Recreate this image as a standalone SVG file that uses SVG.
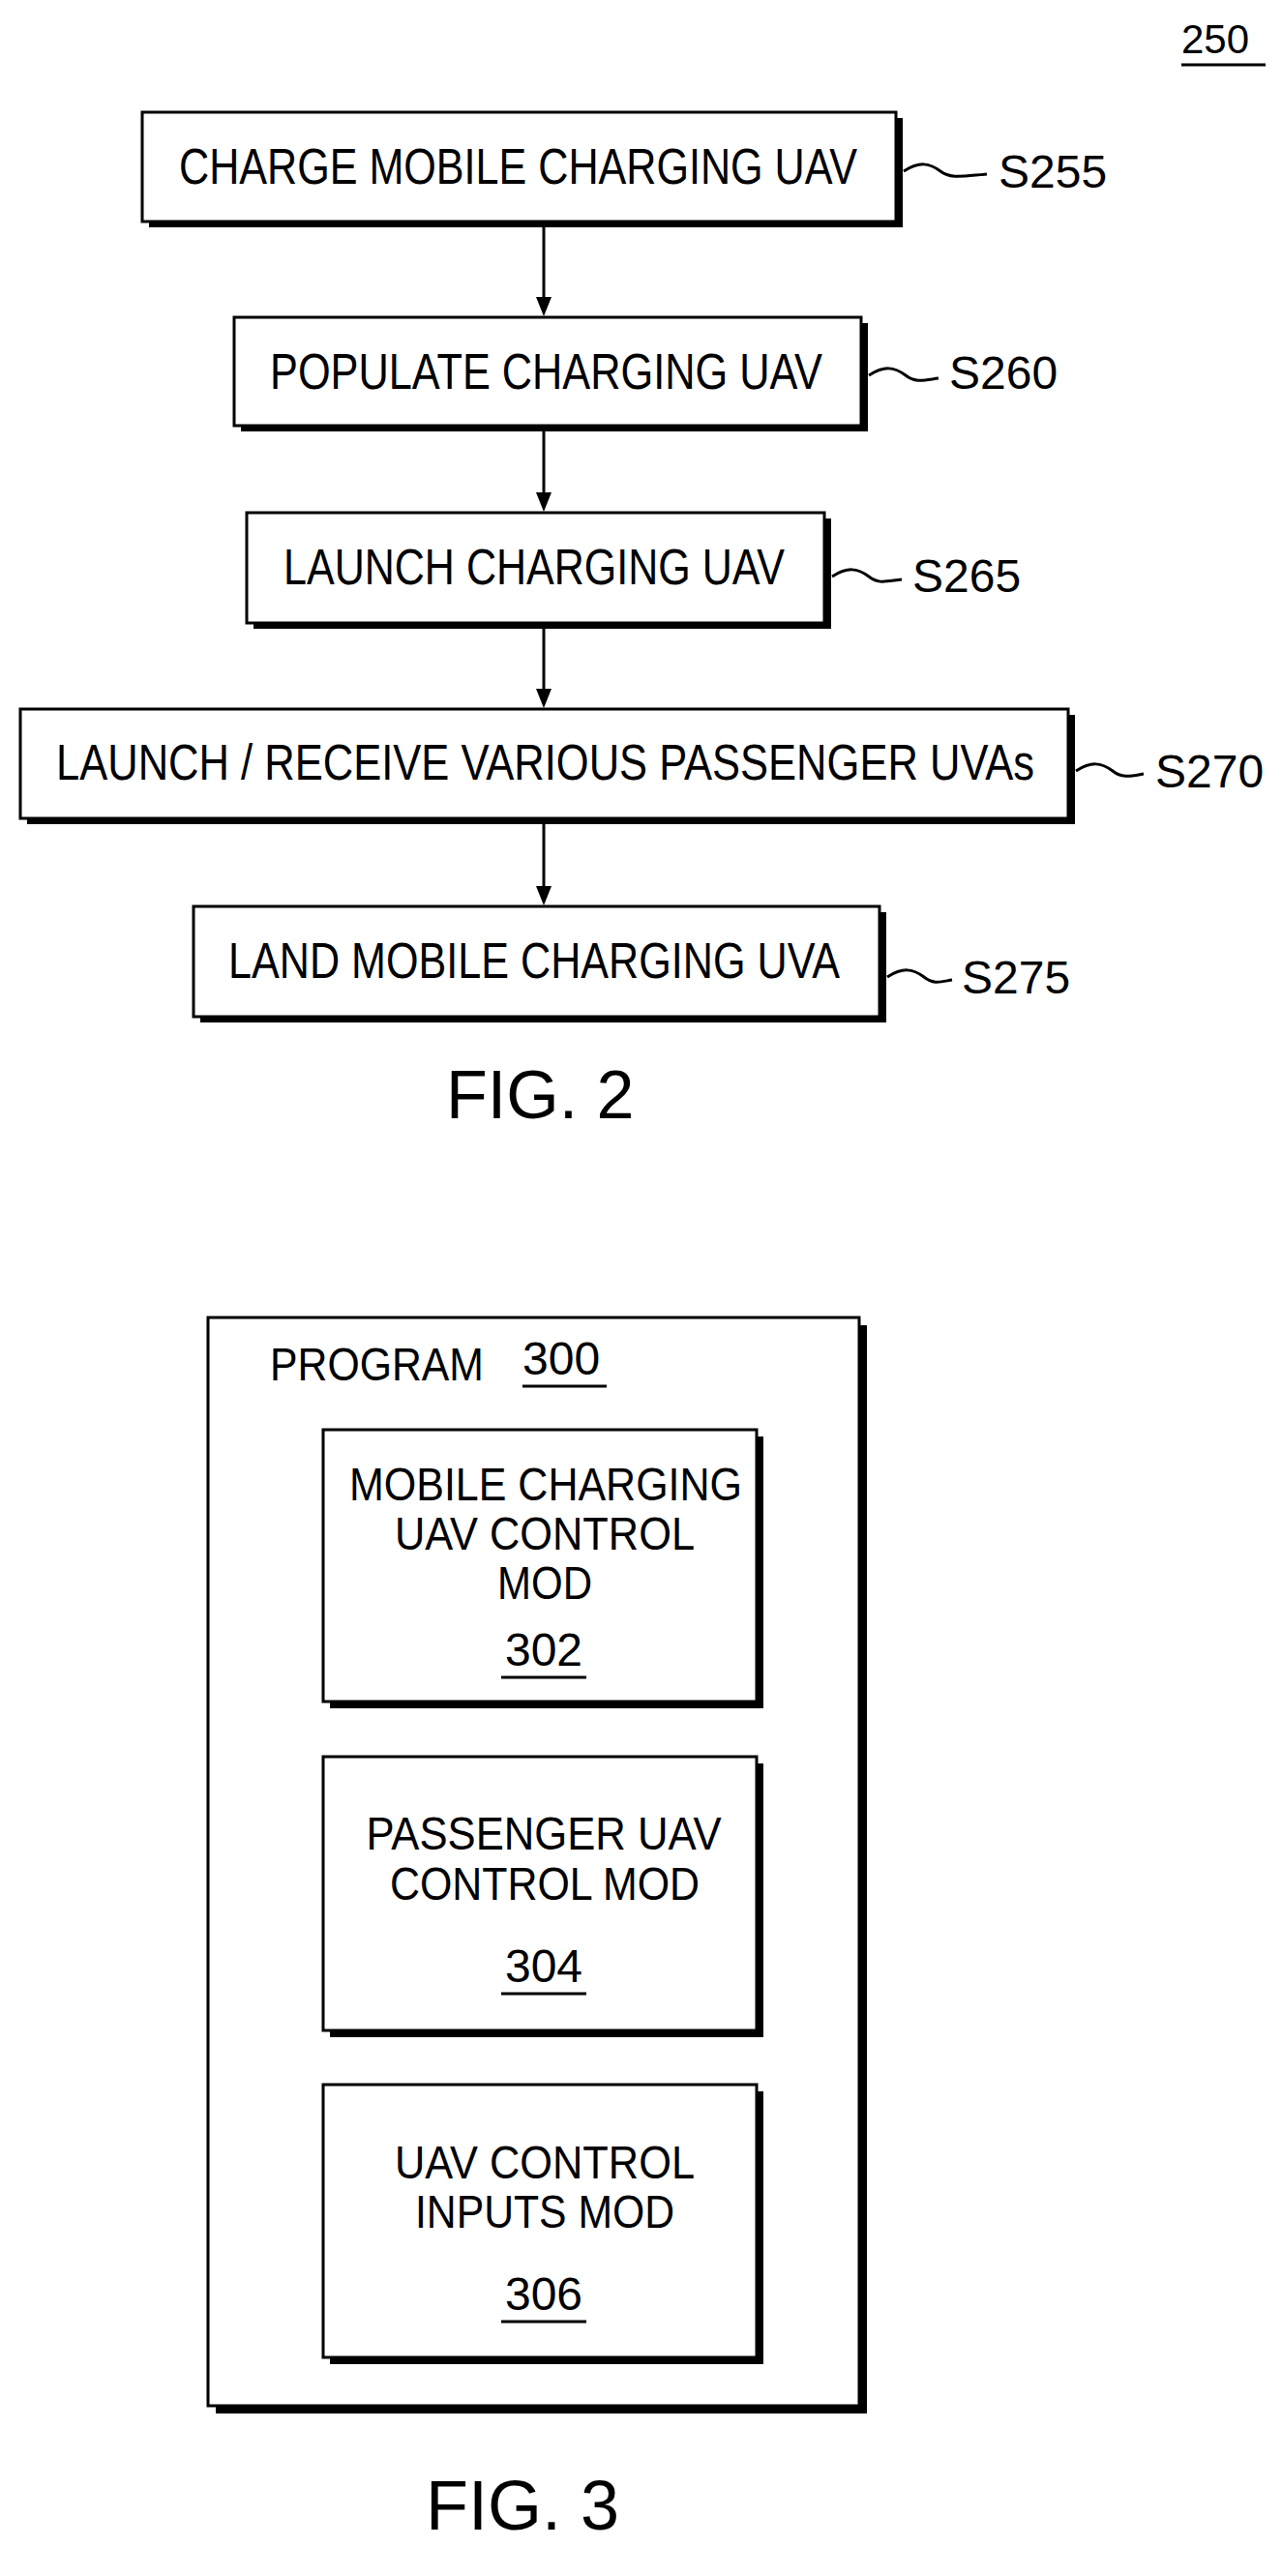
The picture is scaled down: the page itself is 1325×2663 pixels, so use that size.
<svg xmlns="http://www.w3.org/2000/svg" width="1325" height="2663" viewBox="0 0 1325 2663">
<style>
text{font-family:"Liberation Sans",Arial,sans-serif;fill:#000}
.t{font-size:52px}
.l{font-size:48px}
.box{fill:#fff;stroke:#000;stroke-width:3}
.sh{fill:#000}
.c{stroke:#000;stroke-width:3;fill:none}
.m{font-size:48px;text-anchor:middle}
</style>
<text x="1221" y="55" font-size="42">250</text>
<line x1="1221" y1="67" x2="1308" y2="67" class="c"/>
<g id="connectors">
<line x1="562" y1="231" x2="562" y2="310" class="c"/><path d="M554,307 L570,307 L562,327 Z"/>
<line x1="562" y1="443" x2="562" y2="512" class="c"/><path d="M554,509 L570,509 L562,529 Z"/>
<line x1="562" y1="647" x2="562" y2="715" class="c"/><path d="M554,712 L570,712 L562,732 Z"/>
<line x1="562" y1="849" x2="562" y2="919" class="c"/><path d="M554,916 L570,916 L562,936 Z"/>
<path class="c" d="M934,177 C950,167 960,168 972,177 C982,185 995,182 1020,180"/>
<path class="c" d="M898,388 C914,378 924,379 936,388 C946,396 955,393 970,391"/>
<path class="c" d="M860,596 C876,586 886,587 898,596 C908,604 915,601 932,599"/>
<path class="c" d="M1112,797 C1128,787 1138,788 1150,797 C1160,805 1170,802 1182,800"/>
<path class="c" d="M917,1010 C933,1000 943,1001 955,1010 C965,1018 972,1015 984,1013"/>
</g>
<g id="s255"><rect x="154" y="122" width="779" height="113" class="sh"/><rect x="147" y="116" width="779" height="113" class="box"/><text class="t" x="185" y="190" textLength="701" lengthAdjust="spacingAndGlyphs">CHARGE MOBILE CHARGING UAV</text><text class="l" x="1032" y="194">S255</text></g>
<g id="s260"><rect x="249" y="334" width="648" height="112" class="sh"/><rect x="242" y="328" width="648" height="112" class="box"/><text class="t" x="279" y="402" textLength="571" lengthAdjust="spacingAndGlyphs">POPULATE CHARGING UAV</text><text class="l" x="981" y="402">S260</text></g>
<g id="s265"><rect x="262" y="536" width="597" height="114" class="sh"/><rect x="255" y="530" width="597" height="114" class="box"/><text class="t" x="293" y="604" textLength="518" lengthAdjust="spacingAndGlyphs">LAUNCH CHARGING UAV</text><text class="l" x="943" y="612">S265</text></g>
<g id="s270"><rect x="28" y="739" width="1083" height="113" class="sh"/><rect x="21" y="733" width="1083" height="113" class="box"/><text class="t" x="58" y="806" textLength="1011" lengthAdjust="spacingAndGlyphs">LAUNCH / RECEIVE VARIOUS PASSENGER UVAs</text><text class="l" x="1194" y="814">S270</text></g>
<g id="s275"><rect x="207" y="943" width="709" height="114" class="sh"/><rect x="200" y="937" width="709" height="114" class="box"/><text class="t" x="236" y="1011" textLength="632" lengthAdjust="spacingAndGlyphs">LAND MOBILE CHARGING UVA</text><text class="l" x="994" y="1027">S275</text></g>
<text x="461" y="1156" font-size="70">FIG. 2</text>
<g id="program300"><rect x="223" y="1370" width="673" height="1125" class="sh"/><rect x="215" y="1362" width="673" height="1125" class="box"/>
<text class="l" x="279" y="1427" textLength="221" lengthAdjust="spacingAndGlyphs">PROGRAM</text><text class="l" x="540" y="1421">300</text><line x1="540" y1="1433" x2="627" y2="1433" class="c"/></g>
<g id="mod302"><rect x="341" y="1485" width="448" height="281" class="sh"/><rect x="334" y="1478" width="448" height="281" class="box"/>
<text class="m" x="564" y="1551" textLength="406" lengthAdjust="spacingAndGlyphs">MOBILE CHARGING</text><text class="m" x="563" y="1602" textLength="310" lengthAdjust="spacingAndGlyphs">UAV CONTROL</text><text class="m" x="563" y="1653" textLength="98" lengthAdjust="spacingAndGlyphs">MOD</text><text class="m" x="562" y="1722">302</text><line x1="518" y1="1734" x2="606" y2="1734" class="c"/></g>
<g id="mod304"><rect x="341" y="1823" width="448" height="283" class="sh"/><rect x="334" y="1816" width="448" height="283" class="box"/>
<text class="m" x="562" y="1912" textLength="367" lengthAdjust="spacingAndGlyphs">PASSENGER UAV</text><text class="m" x="563" y="1964" textLength="320" lengthAdjust="spacingAndGlyphs">CONTROL MOD</text><text class="m" x="562" y="2049">304</text><line x1="518" y1="2061" x2="606" y2="2061" class="c"/></g>
<g id="mod306"><rect x="341" y="2162" width="448" height="282" class="sh"/><rect x="334" y="2155" width="448" height="282" class="box"/>
<text class="m" x="563" y="2252" textLength="310" lengthAdjust="spacingAndGlyphs">UAV CONTROL</text><text class="m" x="563" y="2303" textLength="268" lengthAdjust="spacingAndGlyphs">INPUTS MOD</text><text class="m" x="562" y="2388">306</text><line x1="518" y1="2400" x2="606" y2="2400" class="c"/></g>
<text x="440" y="2615" font-size="72">FIG. 3</text>
</svg>
